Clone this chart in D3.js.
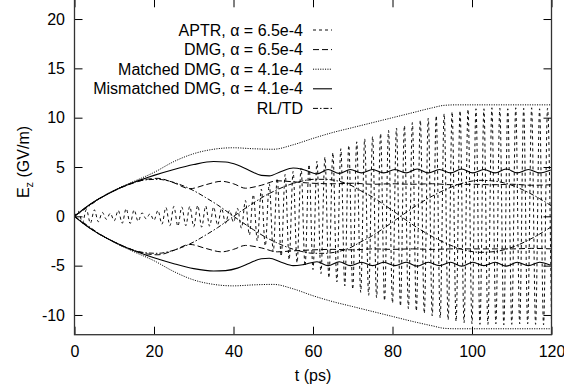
<!DOCTYPE html>
<html>
<head>
<meta charset="utf-8">
<script src="https://cdn.jsdelivr.net/npm/d3@7"></script>
<style>
body { margin: 0; background: #fff; }
svg { display: block; font-family: "Liberation Sans", Arial, Helvetica, sans-serif; }
</style>
</head>
<body>
<div id="chart"></div>
<script>
// values
const xTicks = [0, 20, 40, 60, 80, 100, 120];
const yTicks = [-10, -5, 0, 5, 10, 15, 20];

// APTR: successive extrema of the fast oscillation, one per ps
const aptrE = [
  0, 0.5, -0.65, 0.7, -0.7, 0.65, -0.55, 0.4, -0.3, 0.3,
  -0.45, 0.6, -0.7, 0.78, -0.72, 0.65, -0.5, 0.35, -0.25, 0.25,
  -0.4, 0.6, -0.8, 0.9, -0.95, 1.0, -1.0, 0.95, -0.95, 1.0,
  -1.05, 1.1, -1.1, 1.05, -1.0, 0.95, -0.9, 0.8, -0.7, 0.6,
  -0.6, 0.8, -1.2, 1.6, -1.9, 2.2, -2.5, 2.75, -3.0, 3.3,
  -3.6, 3.85, -4.05, 4.25, -4.4, 4.55, -4.7, 4.9, -5.05, 5.25,
  -5.4, 5.6, -5.8, 6.0, -6.25, 6.45, -6.65, 6.85, -7.05, 7.2,
  -7.4, 7.55, -7.7, 7.85, -8.0, 8.1, -8.25, 8.4, -8.55, 8.7,
  -8.8, 8.95, -9.1, 9.2, -9.35, 9.5, -9.6, 9.75, -9.85, 9.95,
  -10.1, 10.2, -10.3, 10.4, -10.5, 10.6, -10.65, 10.7, -10.8, 10.85,
  -10.9, 10.9, -10.95, 10.9, -10.95, 11.0, -10.9, 10.95, -11.0, 10.9,
  -10.95, 11.0, -10.9, 10.95, -10.9, 11.0, -10.95, 10.9, -11.0, 10.95,
  -10.9
];
const aptrT = d3.range(aptrE.length); // sampled every 1 ps

// DMG, alpha = 6.5e-4 (upper / lower branch)
const dmgT = [0, 2, 5, 10, 15, 18, 21, 25, 29, 33, 37, 40, 43, 47, 51, 55, 60, 65, 70, 75, 80, 85, 90, 95, 100, 105, 110, 115, 120];
const dmgUpper = [0, 0.65, 1.5, 2.6, 3.4, 3.75, 3.85, 3.4, 2.8, 3.2, 3.55, 3.3, 2.85, 3.15, 3.6, 3.5, 3.35, 3.3, 3.35, 3.25, 3.3, 3.25, 3.3, 3.2, 3.25, 3.2, 3.25, 3.15, 3.2];
const dmgLower = [0, -0.65, -1.5, -2.6, -3.45, -3.8, -3.9, -3.45, -2.85, -3.25, -3.6, -3.35, -2.95, -3.2, -3.6, -3.5, -3.4, -3.35, -3.4, -3.3, -3.35, -3.3, -3.35, -3.3, -3.3, -3.3, -3.3, -3.25, -3.3];

// Matched DMG, alpha = 4.1e-4
const mtT = [0, 2, 5, 10, 15, 20, 25, 30, 35, 40, 45, 50, 55, 60, 65, 70, 75, 80, 85, 90, 93, 96, 100, 110, 120];
const mtUpper = [0, 0.65, 1.5, 2.65, 3.55, 4.45, 5.55, 6.35, 6.8, 6.95, 6.85, 6.8, 7.25, 7.9, 8.5, 9.0, 9.5, 10.0, 10.5, 11.0, 11.25, 11.3, 11.3, 11.3, 11.3];
const mtLower = [0, -0.65, -1.5, -2.65, -3.6, -4.5, -5.6, -6.45, -6.9, -7.05, -6.95, -6.9, -7.35, -8.05, -8.65, -9.15, -9.65, -10.15, -10.65, -11.1, -11.35, -11.4, -11.4, -11.4, -11.4];

// Mismatched DMG, alpha = 4.1e-4
const mdT = [0, 2, 5, 10, 15, 20, 25, 30, 35, 38, 41, 44, 47, 49, 52, 55, 57.5,
  61, 63.8, 66.6, 69.4, 72.2, 75, 77.8, 80.6, 83.4, 86.2, 89, 91.8, 94.6, 97.4, 100.2, 103, 105.8, 108.6, 111.4, 114.2, 117, 119.8];
const mdUpper = [0, 0.65, 1.5, 2.6, 3.45, 4.15, 4.75, 5.25, 5.55, 5.5, 5.2, 4.65, 4.15, 4.1, 4.55, 4.9, 4.75,
  4.3, 4.75, 4.35, 4.75, 4.4, 4.75, 4.4, 4.75, 4.4, 4.8, 4.4, 4.75, 4.4, 4.8, 4.4, 4.75, 4.4, 4.8, 4.4, 4.75, 4.4, 4.7];
const mdLower = [0, -0.65, -1.5, -2.6, -3.5, -4.2, -4.8, -5.3, -5.55, -5.5, -5.25, -4.75, -4.3, -4.25, -4.65, -5.0, -4.9,
  -4.6, -5.0, -4.6, -5.0, -4.65, -5.0, -4.65, -5.0, -4.65, -5.05, -4.65, -5.0, -4.65, -5.05, -4.65, -5.0, -4.65, -5.05, -4.65, -5.0, -4.65, -4.95];

// RL/TD: two branches that swap sign (crossings near 40 and 82 ps)
const rlT = [0, 3, 6, 9, 12, 15, 18, 21, 24, 27, 30, 33, 36, 39, 42, 45, 48, 51, 54, 57, 60,
  63, 66, 69, 72, 75, 78, 81, 84, 87, 90, 93, 96, 99, 102, 105, 108, 111, 114, 117, 120];
const rlA = [0, 0.85, 1.7, 2.4, 3.0, 3.45, 3.7, 3.75, 3.55, 3.15, 2.6, 1.9, 1.15, 0.3, -0.55, -1.35, -2.1, -2.7, -3.2, -3.55, -3.75,
  -3.75, -3.6, -3.25, -2.6, -1.95, -1.15, -0.3, 0.55, 1.35, 2.05, 2.65, 3.15, 3.5, 3.65, 3.6, 3.4, 3.0, 2.45, 1.8, 1.05];
const rlB = [0, -0.85, -1.7, -2.4, -3.0, -3.45, -3.7, -3.75, -3.55, -3.15, -2.6, -1.9, -1.15, -0.3, 0.55, 1.35, 2.1, 2.7, 3.2, 3.55, 3.75,
  3.75, 3.6, 3.25, 2.6, 1.95, 1.15, 0.3, -0.55, -1.35, -2.05, -2.65, -3.15, -3.5, -3.65, -3.6, -3.4, -3.0, -2.45, -1.8, -1.05];

const legendLabels = ["APTR, α = 6.5e-4", "DMG, α = 6.5e-4", "Matched DMG, α = 4.1e-4", "Mismatched DMG, α = 4.1e-4", "RL/TD"];

const zip = (t, e) => t.map((v, i) => [v, e[i]]);

const series = [
    { label: legendLabels[0], dash: "3,3", width: 0.95, curves: [zip(aptrT, aptrE)] },
    { label: legendLabels[1], dash: "6,3", width: 1, curves: [zip(dmgT, dmgUpper), zip(dmgT, dmgLower)] },
    { label: legendLabels[2], dash: "1.1,1.3", width: 1, curves: [zip(mtT, mtUpper), zip(mtT, mtLower)] },
    { label: legendLabels[3], dash: null, width: 1.1, curves: [zip(mdT, mdUpper), zip(mdT, mdLower)] },
    { label: legendLabels[4], dash: "5,2,1.5,2", width: 1, curves: [zip(rlT, rlA), zip(rlT, rlB)] }
];

const width = 564, height = 391;
const x = d3.scaleLinear().domain([0, 120]).range([74.5, 551.5]);
const y = d3.scaleLinear().domain([-12, 22]).range([334.7, -0.7]);
const fontSize = 16;
const plainNum = d => String(d); // keep ascii hyphen for negatives

const svg = d3.select("#chart")
    .append("svg")
    .attr("width", width)
    .attr("height", height);

svg.append("defs").append("clipPath")
    .attr("id", "plot-clip")
    .append("rect")
    .attr("x", x(0)).attr("y", y(22))
    .attr("width", x(120) - x(0)).attr("height", y(-12) - y(22));

// axes with inward ticks on all four sides (gnuplot style)
const tickLen = 8;
const axisStyle = g => {
    g.select(".domain").remove();
    g.selectAll(".tick line").attr("stroke", "#000").attr("stroke-width", 1);
    g.selectAll(".tick text").attr("font-size", fontSize).attr("fill", "#000").attr("font-family", null);
};

svg.append("g")
    .attr("transform", `translate(0,${y(-12)})`)
    .call(d3.axisBottom(x).tickValues(xTicks).tickSize(-tickLen).tickPadding(11).tickFormat(plainNum))
    .call(axisStyle);

svg.append("g")
    .attr("transform", `translate(0,${y(22)})`)
    .call(d3.axisTop(x).tickValues(xTicks).tickSize(-tickLen).tickFormat(""))
    .call(axisStyle);

svg.append("g")
    .attr("transform", `translate(${x(0)},0)`)
    .call(d3.axisLeft(y).tickValues(yTicks).tickSize(-tickLen).tickPadding(9.5).tickFormat(plainNum))
    .call(axisStyle);

svg.append("g")
    .attr("transform", `translate(${x(120)},0)`)
    .call(d3.axisRight(y).tickValues(yTicks).tickSize(-tickLen).tickFormat(""))
    .call(axisStyle);

// data lines
const line = d3.line()
    .x(d => x(d[0]))
    .y(d => y(d[1]))
    .curve(d3.curveMonotoneX);

const plot = svg.append("g").attr("clip-path", "url(#plot-clip)");

series.forEach(s => {
    s.curves.forEach(c => {
        plot.append("path")
            .attr("d", line(c))
            .attr("fill", "none")
            .attr("stroke", "#000")
            .attr("stroke-width", s.width)
            .attr("stroke-dasharray", s.dash);
    });
});

// frame
svg.append("rect")
    .attr("x", x(0)).attr("y", y(22))
    .attr("width", x(120) - x(0)).attr("height", y(-12) - y(22))
    .attr("fill", "none")
    .attr("stroke", "#333")
    .attr("stroke-width", 1.3);

// legend
const legend = svg.append("g").attr("class", "legend");
series.forEach((s, i) => {
    const ly = 30 + i * 19.6;
    legend.append("text")
        .attr("x", 303)
        .attr("y", ly)
        .attr("dy", "0.35em")
        .attr("text-anchor", "end")
        .attr("font-size", fontSize)
        .text(s.label);
    legend.append("line")
        .attr("x1", 313).attr("x2", 332)
        .attr("y1", ly).attr("y2", ly)
        .attr("stroke", "#000")
        .attr("stroke-width", s.width)
        .attr("stroke-dasharray", s.dash);
});

// axis titles
svg.append("text")
    .attr("x", (x(0) + x(120)) / 2)
    .attr("y", 381)
    .attr("text-anchor", "middle")
    .attr("font-size", fontSize)
    .text("t (ps)");

const yTitle = svg.append("text")
    .attr("transform", "translate(29,162) rotate(-90)")
    .attr("text-anchor", "middle")
    .attr("font-size", fontSize);
yTitle.append("tspan").text("E");
yTitle.append("tspan").attr("font-size", 11).attr("dy", 4).text("z");
yTitle.append("tspan").attr("dy", -4).text(" (GV/m)");
</script>
</body>
</html>
